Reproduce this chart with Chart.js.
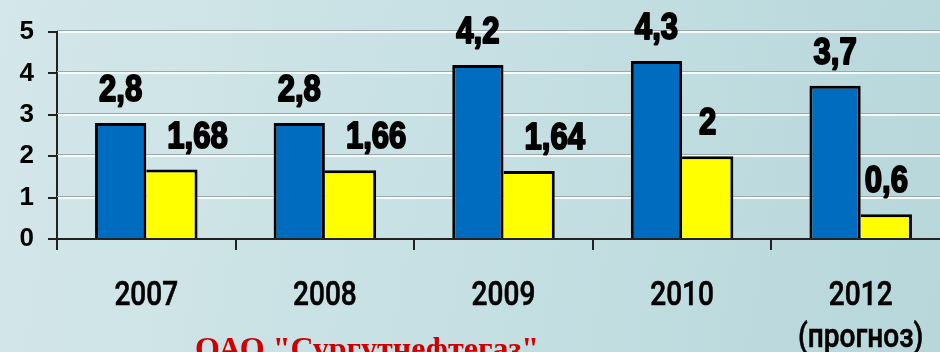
<!DOCTYPE html>
<html>
<head>
<meta charset="utf-8">
<script src="https://cdn.jsdelivr.net/npm/chart.js@4"></script>
<style>
    html, body {
        margin: 0;
        padding: 0;
        width: 940px;
        height: 352px;
        overflow: hidden;
    }
    body {
        position: relative;
        background: linear-gradient(100deg, #d4e7ea 0%, #c6e0e3 50%, #b7d7db 100%);
    }
    #chart-box {
        position: absolute;
        left: 0;
        top: 0;
        width: 950px;
        height: 352px;
    }
    #company {
        position: absolute;
        left: 195px;
        top: 330px;
        font-family: "Liberation Serif", "Times New Roman", serif;
        font-weight: bold;
        font-size: 32px;
        color: #cc0000;
        white-space: nowrap;
    }
</style>
</head>
<body>
<div id="chart-box"><canvas id="results-chart"></canvas></div>
<div id="company">ОАО "Сургутнефтегаз"</div>

<script>
const years = ['2007', '2008', '2009', '2010', ['2012', '(прогноз)']];
const blueValues = [2.8, 2.8, 4.2, 4.3, 3.7];
const yellowValues = [1.68, 1.66, 1.64, 2, 0.6];
const yTicks = [0, 1, 2, 3, 4, 5];

// yellow labels for the first three years sit over the bar's right edge
const yellowLabelShift = [1, 1, 1, 0, 0];

// narrow text: draw squeezed horizontally around x
function narrowText(ctx, text, x, y, squeeze, stroke) {
    ctx.save();
    ctx.translate(x, y);
    ctx.scale(squeeze, 1);
    if (stroke) ctx.strokeText(text, 0, 0);
    ctx.fillText(text, 0, 0);
    ctx.restore();
}

const valueLabels = {
    id: 'valueLabels',
    beforeDatasetsDraw(chart) {
        // thin grey shadow line above each white grid line
        const ctx = chart.ctx;
        const area = chart.chartArea;
        const y = chart.scales.y;
        ctx.save();
        ctx.strokeStyle = '#98a8ac';
        ctx.lineWidth = 1;
        y.ticks.forEach(t => {
            if (t.value === 0) return;
            const py = Math.round(y.getPixelForValue(t.value)) - 1.5;
            ctx.beginPath();
            ctx.moveTo(area.left, py);
            ctx.lineTo(area.right, py);
            ctx.stroke();
        });
        ctx.restore();
    },
    afterDatasetsDraw(chart) {
        const ctx = chart.ctx;
        ctx.save();
        ctx.font = 'bold 37px "Liberation Sans", Arial, sans-serif';
        ctx.textAlign = 'center';
        ctx.textBaseline = 'middle';
        ctx.fillStyle = '#000';
        ctx.strokeStyle = '#000';
        ctx.lineWidth = 2;
        ctx.lineJoin = 'round';
        chart.data.datasets.forEach((ds, i) => {
            const meta = chart.getDatasetMeta(i);
            meta.data.forEach((bar, j) => {
                const p = bar.getProps(['x', 'y', 'width'], true);
                let x = p.x;
                if (i === 1) x += yellowLabelShift[j] * p.width / 2;
                const text = String(ds.data[j]).replace('.', ',');
                narrowText(ctx, text, x, p.y - 32, 0.84, true);
            });
        });
        ctx.restore();
    },
    afterDraw(chart) {
        // category names under the x axis
        const ctx = chart.ctx;
        const xs = chart.scales.x;
        ctx.save();
        ctx.font = '500 33px Roboto, "Liberation Sans", sans-serif';
        ctx.textAlign = 'center';
        ctx.textBaseline = 'alphabetic';
        ctx.fillStyle = '#000';
        ctx.strokeStyle = '#000';
        ctx.lineWidth = 0.6;
        years.forEach((label, i) => {
            const x = xs.getPixelForTick(i);
            const lines = Array.isArray(label) ? label : [label];
            lines.forEach((line, k) => {
                narrowText(ctx, line, x, 305 + k * 42, 0.85, true);
            });
        });
        ctx.restore();
    }
};

const ctx = document.getElementById('results-chart').getContext('2d');
new Chart(ctx, {
    type: 'bar',
    data: {
        labels: years,
        datasets: [{
            data: blueValues,
            backgroundColor: '#006cc0',
            borderColor: '#000',
            borderWidth: { top: 3, left: 3, right: 3, bottom: 0 },
            borderSkipped: false
        }, {
            data: yellowValues,
            backgroundColor: '#ffff00',
            borderColor: '#000',
            borderWidth: { top: 3, left: 0, right: 3, bottom: 0 },
            borderSkipped: false
        }]
    },
    options: {
        responsive: true,
        maintainAspectRatio: false,
        animation: false,
        categoryPercentage: 0.574,
        barPercentage: 1.0,
        layout: { padding: { top: 32, right: 0, bottom: 0, left: 0 } },
        plugins: {
            legend: { display: false },
            tooltip: { enabled: false }
        },
        scales: {
            x: {
                grid: {
                    drawOnChartArea: false,
                    drawTicks: true,
                    tickLength: 11,
                    tickColor: '#222',
                    lineWidth: 2
                },
                border: { display: true, color: '#222', width: 2 },
                ticks: { display: false },
                afterFit(scale) { scale.height = 113; }
            },
            y: {
                min: 0,
                max: 5,
                afterBuildTicks(scale) { scale.ticks = yTicks.map(v => ({ value: v })); },
                grid: {
                    color: '#f6fafa',
                    lineWidth: 2,
                    tickLength: 9,
                    tickColor: '#222'
                },
                border: { display: true, color: '#222', width: 2 },
                ticks: {
                    color: '#000',
                    padding: 14,
                    font: { family: '"Liberation Sans", Arial, sans-serif', size: 26, weight: 'bold' }
                },
                afterFit(scale) { scale.width = 57; }
            }
        }
    },
    plugins: [valueLabels]
});
</script>
</body>
</html>
